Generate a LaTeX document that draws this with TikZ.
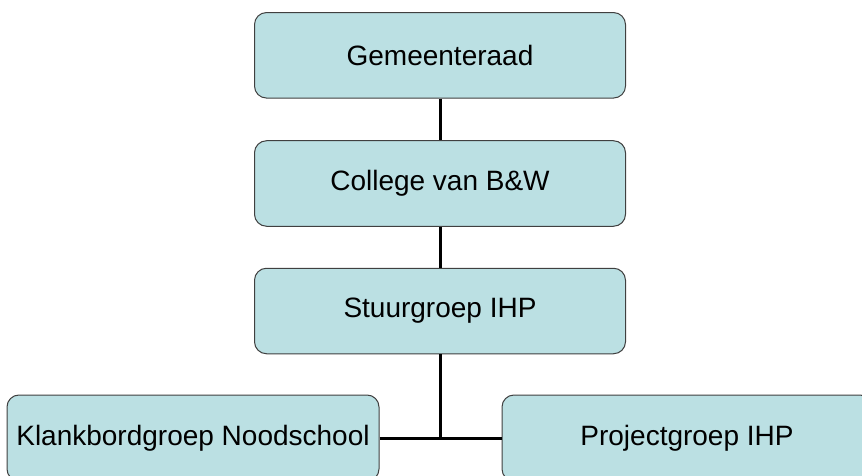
\documentclass[tikz,border=0pt]{standalone}
\usepackage{fontspec}
\setmainfont{Liberation Sans}
\definecolor{boxfill}{HTML}{BBE0E3}
\definecolor{boxline}{HTML}{404040}
\begin{document}
\begin{tikzpicture}[x=1pt,y=-1pt,
  orgbox/.style={draw=boxline, line width=1pt, fill=boxfill, rounded corners=12pt,
    minimum width=371pt, minimum height=85.5pt, inner sep=0pt,
    font=\fontsize{28}{32}\selectfont, text=black},
  conn/.style={line width=3pt, black}]
\useasboundingbox (0,0) rectangle (862,476);
\clip (0,0) rectangle (862,476);
\node[orgbox] (b1) at (440,55.3) {Gemeenteraad};
\node[orgbox] (b2) at (440,183.5) {College van B\&W};
\node[orgbox] (b3) at (440,311) {Stuurgroep IHP};
\node[orgbox, minimum width=372pt, minimum height=86pt] (b4) at (193,438) {Klankbordgroep Noodschool};
\node[orgbox, minimum width=370pt, minimum height=86pt] (b5) at (687,438) {Projectgroep IHP};
\coordinate (j) at (440,438);
\draw[conn] (b1.south) -- (b2.north);
\draw[conn] (b2.south) -- (b3.north);
\draw[conn] (b3.south) -- (j);
\draw[conn] (b4.east) -- (b5.west);
\end{tikzpicture}
\end{document}
